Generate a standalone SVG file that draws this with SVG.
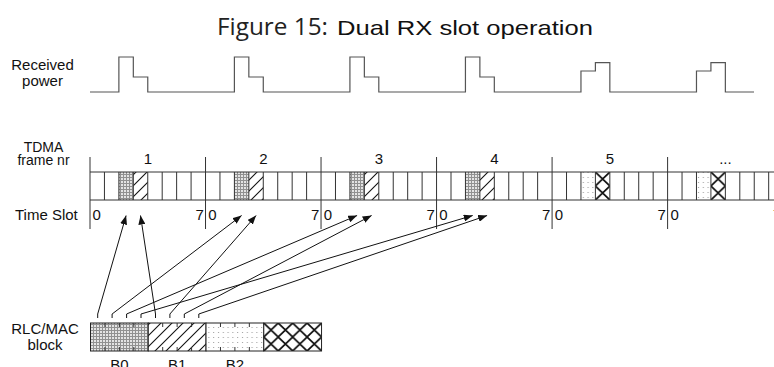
<svg xmlns="http://www.w3.org/2000/svg" width="774" height="367" viewBox="0 0 774 367">
<style>
.lbl{font-family:"Liberation Sans",Arial,sans-serif;font-size:15px;fill:#111}
.sm{font-size:14px}
.mid{text-anchor:middle}
.end{text-anchor:end}
.ln{fill:none;stroke:#333;stroke-width:1}
.arr{fill:none;stroke:#111;stroke-width:1;marker-end:url(#ah)}
.tick{stroke:#333;stroke-width:1}
</style>
<defs>
<marker id="ah" viewBox="0 0 9 7" refX="9" refY="3.5" markerWidth="9" markerHeight="7" markerUnits="userSpaceOnUse" orient="auto">
<path d="M0,0 L9,3.5 L0,7 z" fill="#111"/>
</marker>
<pattern id="pGrid" width="3" height="3" patternUnits="userSpaceOnUse">
<rect width="3" height="3" fill="#e4e4e4"/>
<path d="M0,0.5H3M0.5,0V3" stroke="#919191" stroke-width="1"/>
</pattern>
<pattern id="pHatch" width="11" height="11" patternUnits="userSpaceOnUse">
<rect width="11" height="11" fill="#fff"/>
<path d="M-1,1 L1,-1 M0,11 L11,0 M10,12 L12,10" stroke="#111" stroke-width="1.1"/>
</pattern>
<pattern id="pDots" width="4.8" height="5" patternUnits="userSpaceOnUse">
<rect width="4.8" height="5" fill="#fff"/>
<rect x="2" y="2" width="1" height="1" fill="#999"/>
</pattern>
<pattern id="pCrossS" x="595.4" y="172" width="14.44" height="14" patternUnits="userSpaceOnUse">
<rect width="14.44" height="14" fill="#fff"/>
<path d="M0,0 L14.44,14 M14.44,0 L0,14" stroke="#111" stroke-width="1.7"/>
</pattern>
<pattern id="pCrossB" x="263.78" y="323" width="14.44" height="14" patternUnits="userSpaceOnUse">
<rect width="14.44" height="14" fill="#fff"/>
<path d="M0,0 L14.44,14 M14.44,0 L0,14" stroke="#111" stroke-width="1.7"/>
</pattern>
</defs>
<rect width="774" height="367" fill="#fff"/>

<g id="title">
<text x="217" y="35" font-family="'Open Sans','Noto Sans',sans-serif" font-size="23" fill="#222" textLength="111" lengthAdjust="spacingAndGlyphs">Figure 15:</text>
<text x="337" y="35" font-family="'Liberation Sans',Arial,sans-serif" font-size="21" fill="#111" textLength="256" lengthAdjust="spacingAndGlyphs">Dual RX slot operation</text>
</g>

<g id="received-power">
<text class="lbl mid" x="42.5" y="70">Received</text>
<text class="lbl mid" x="42.5" y="86">power</text>
<path fill="none" stroke="#555" stroke-width="1.2" d="M90,92 H118.88 V57 H133.32 V77 H147.76 V92 H234.4 V57 H248.84 V77 H263.28 V92 H349.92 V57 H364.36 V77 H378.8 V92 H465.44 V57 H479.88 V77 H494.32 V92 H580.96 V71 H595.4 V62.7 H609.84 V92 H696.48 V71 H710.92 V62.7 H725.36 V92 H754"/>
</g>

<g id="tdma-frames">
<text class="lbl sm mid" x="43.5" y="152">TDMA</text>
<text class="lbl sm mid" x="43.5" y="165">frame nr</text>
<rect x="118.88" y="172" width="14.44" height="28" fill="url(#pGrid)"/>
<rect x="133.32" y="172" width="14.44" height="28" fill="url(#pHatch)"/>
<rect x="234.4" y="172" width="14.44" height="28" fill="url(#pGrid)"/>
<rect x="248.84" y="172" width="14.44" height="28" fill="url(#pHatch)"/>
<rect x="349.92" y="172" width="14.44" height="28" fill="url(#pGrid)"/>
<rect x="364.36" y="172" width="14.44" height="28" fill="url(#pHatch)"/>
<rect x="465.44" y="172" width="14.44" height="28" fill="url(#pGrid)"/>
<rect x="479.88" y="172" width="14.44" height="28" fill="url(#pHatch)"/>
<rect x="580.96" y="172" width="14.44" height="28" fill="url(#pDots)"/>
<rect x="595.4" y="172" width="14.44" height="28" fill="url(#pCrossS)"/>
<rect x="696.48" y="172" width="14.44" height="28" fill="url(#pDots)"/>
<rect x="710.92" y="172" width="14.44" height="28" fill="url(#pCrossS)"/>
<path class="ln" d="M90,172 H774 M90,200 H774
M104.44,172V200 M118.88,172V200 M133.32,172V200 M147.76,172V200 M162.2,172V200 M176.64,172V200 M191.08,172V200
M219.96,172V200 M234.4,172V200 M248.84,172V200 M263.28,172V200 M277.72,172V200 M292.16,172V200 M306.6,172V200
M335.48,172V200 M349.92,172V200 M364.36,172V200 M378.8,172V200 M393.24,172V200 M407.68,172V200 M422.12,172V200
M451,172V200 M465.44,172V200 M479.88,172V200 M494.32,172V200 M508.76,172V200 M523.2,172V200 M537.64,172V200
M566.52,172V200 M580.96,172V200 M595.4,172V200 M609.84,172V200 M624.28,172V200 M638.72,172V200 M653.16,172V200
M682.04,172V200 M696.48,172V200 M710.92,172V200 M725.36,172V200 M739.8,172V200 M754.24,172V200 M768.68,172V200"/>
<path class="ln" stroke="#222" d="M90,157V229 M205.52,157V229 M321.04,157V229 M436.56,157V229 M552.08,157V229 M667.6,157V229"/>
<text class="lbl mid" x="147.8" y="163.5">1</text>
<text class="lbl mid" x="263.3" y="163.5">2</text>
<text class="lbl mid" x="378.8" y="163.5">3</text>
<text class="lbl mid" x="494.3" y="163.5">4</text>
<text class="lbl mid" x="609.8" y="163.5">5</text>
<text class="lbl mid" x="725.4" y="163.5">...</text>
<text class="lbl" x="15" y="220">Time Slot</text>
<text class="lbl" x="92.5" y="220">0</text>
<text class="lbl end" x="203.8" y="220">7</text>
<text class="lbl" x="208.3" y="220">0</text>
<text class="lbl end" x="319.3" y="220">7</text>
<text class="lbl" x="323.8" y="220">0</text>
<text class="lbl end" x="434.8" y="220">7</text>
<text class="lbl" x="439.3" y="220">0</text>
<text class="lbl end" x="550.3" y="220">7</text>
<text class="lbl" x="554.8" y="220">0</text>
<text class="lbl end" x="665.9" y="220">7</text>
<text class="lbl" x="670.4" y="220">0</text>
<text class="lbl end" x="781.4" y="220">7</text>
</g>

<g id="rlc-mac-block">
<text class="lbl mid" x="45" y="333.5">RLC/MAC</text>
<text class="lbl mid" x="45" y="350">block</text>
<g id="block-B0">
<rect x="90.5" y="323" width="57.76" height="28" fill="url(#pGrid)" stroke="#222" stroke-width="1"/>
<path class="tick" d="M104.94,323v4 M119.38,323v4 M133.82,323v4 M104.94,351v-4 M119.38,351v-4 M133.82,351v-4"/>
<text class="lbl mid" x="119.4" y="370">B0</text>
</g>
<g id="block-B1">
<rect x="148.26" y="323" width="57.76" height="28" fill="url(#pHatch)" stroke="#222" stroke-width="1"/>
<path class="tick" d="M162.7,323v4 M177.14,323v4 M191.58,323v4 M162.7,351v-4 M177.14,351v-4 M191.58,351v-4"/>
<text class="lbl mid" x="177.1" y="370">B1</text>
</g>
<g id="block-B2">
<rect x="206.02" y="323" width="57.76" height="28" fill="url(#pDots)" stroke="#222" stroke-width="1"/>
<path class="tick" d="M220.46,323v4 M234.9,323v4 M249.34,323v4 M220.46,351v-4 M234.9,351v-4 M249.34,351v-4"/>
<text class="lbl mid" x="234.9" y="370">B2</text>
</g>
<g id="block-B3">
<rect x="263.78" y="323" width="57.76" height="28" fill="url(#pCrossB)" stroke="#222" stroke-width="1"/>
</g>
</g>

<g id="connectors">
<polyline class="arr" points="97.7,318 97.7,314 126.1,215.5"/>
<polyline class="arr" points="112.1,318 112.1,314 241.6,215.5"/>
<polyline class="arr" points="126.6,318 126.6,314 357.1,215.5"/>
<polyline class="arr" points="141,318 141,314 472.7,215.5"/>
<polyline class="arr" points="155.5,318 155.5,314 140.5,215.5"/>
<polyline class="arr" points="169.9,318 169.9,314 256.1,215.5"/>
<polyline class="arr" points="184.3,318 184.3,314 371.6,215.5"/>
<polyline class="arr" points="198.8,318 198.8,314 487.1,215.5"/>
</g>
</svg>
